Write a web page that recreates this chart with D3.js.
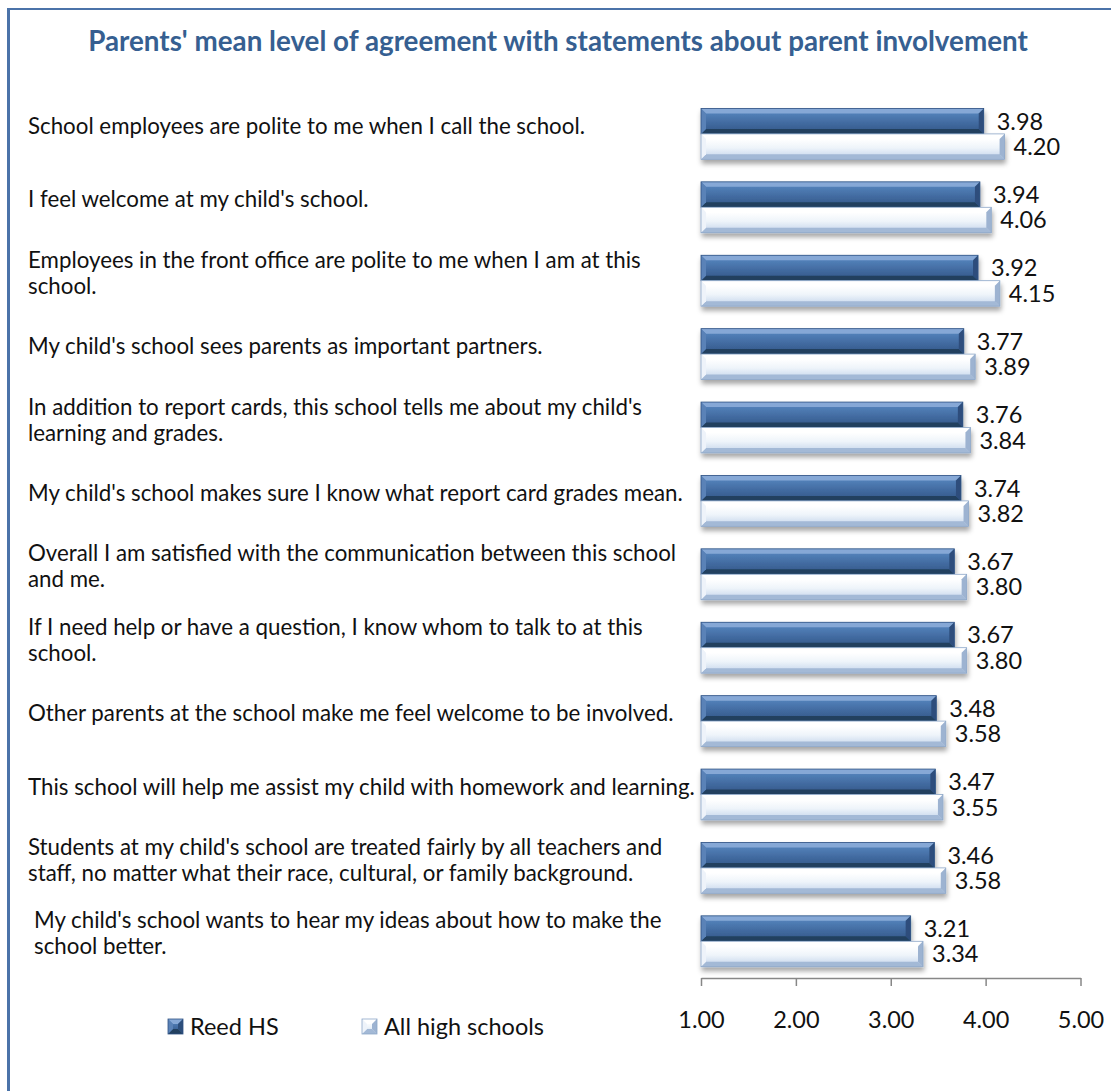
<!DOCTYPE html>
<html>
<head>
<meta charset="utf-8">
<script src="https://cdn.jsdelivr.net/npm/d3@7"></script>
<style>
  body { margin: 0; background: #fff; }
  svg { display: block; font-family: Lato, "Open Sans", sans-serif; }
</style>
</head>
<body>
<div id="chart"></div>
<script>
// statements, split into the lines shown in the chart
const statements = [
    ["School employees are polite to me when I call the school."],
    ["I feel welcome at my child's school."],
    ["Employees in the front office are polite to me when I am at this", "school."],
    ["My child's school sees parents as important partners."],
    ["In addition to report cards, this school tells me about my child's", "learning and grades."],
    ["My child's school makes sure I know what report card grades mean."],
    ["Overall I am satisfied with the communication between this school", "and me."],
    ["If I need help or have a question, I know whom to talk to at this", "school."],
    ["Other parents at the school make me feel welcome to be involved."],
    ["This school will help me assist my child with homework and learning."],
    ["Students at my child's school are treated fairly by all teachers and", "staff, no matter what their race, cultural, or family background."],
    ["My child's school wants to hear my ideas about how to make the", "school better."]
];
const reedHS = [3.98, 3.94, 3.92, 3.77, 3.76, 3.74, 3.67, 3.67, 3.48, 3.47, 3.46, 3.21];
const allHS  = [4.20, 4.06, 4.15, 3.89, 3.84, 3.82, 3.80, 3.80, 3.58, 3.55, 3.58, 3.34];
const seriesNames = ['Reed HS', 'All high schools'];
const xTicks = [1, 2, 3, 4, 5];
const title = "Parents' mean level of agreement with statements about parent involvement";

// label text boxes were placed by hand in the original, small nudges [dx, dy]
const labelNudge = [[0,0],[0,0],[0,0],[0,0],[0,0],[0,0],[0,0],[0,0],[0,0],[0,0],[0,0],[6,0]];

const width = 1111, height = 1091;
const svg = d3.select('#chart').append('svg')
    .attr('width', width)
    .attr('height', height);

const defs = svg.append('defs');

function grad(id, stops) {
    const g = defs.append('linearGradient').attr('id', id)
        .attr('x1', 0).attr('y1', 0).attr('x2', 0).attr('y2', 1);
    stops.forEach(s => g.append('stop').attr('offset', s[0]).attr('stop-color', s[1]));
}
grad('reedBody', [[0, '#6f97ca'], [0.2, '#5280b8'], [0.55, '#436ca2'], [0.85, '#375d8f'], [1, '#294c7a']]);
grad('allBody', [[0, '#dbe6f4'], [0.2, '#ffffff'], [0.55, '#eef4fa'], [0.85, '#cfddef'], [1, '#b4c8e1']]);

const shadow = defs.append('filter').attr('id', 'shadow')
    .attr('x', '-5%').attr('y', '-20%').attr('width', '115%').attr('height', '160%');
shadow.append('feDropShadow')
    .attr('dx', 1).attr('dy', 4).attr('stdDeviation', 2.5)
    .attr('flood-color', '#000').attr('flood-opacity', 0.35);

const styles = {
    'Reed HS': {body: 'url(#reedBody)', top: '#86a8d6', bottom: '#22405f', left: '#5a82b7', right: '#2d4e7b', stroke: '#2f5283'},
    'All high schools': {body: 'url(#allBody)', top: '#ffffff', bottom: '#a3b9d6', left: '#eef3fa', right: '#9db3d1', stroke: '#8da7c8'}
};

// frame
svg.append('line').attr('x1', 8).attr('x2', width).attr('y1', 9).attr('y2', 9)
    .attr('stroke', '#4b73a9').attr('stroke-width', 2);
svg.append('line').attr('x1', 8.5).attr('x2', 8.5).attr('y1', 8).attr('y2', height)
    .attr('stroke', '#4b73a9').attr('stroke-width', 3);

// fit a text node's font-size to a target width
function fit(sel, target) {
    const fs = parseFloat(sel.attr('font-size'));
    const w = sel.node().getComputedTextLength();
    sel.attr('font-size', (fs * target / w).toFixed(2));
}

const titleText = svg.append('text')
    .attr('x', 558).attr('y', 51)
    .attr('text-anchor', 'middle')
    .attr('font-weight', 'bold')
    .attr('font-size', 24)
    .attr('fill', '#365f91')
    .text(title);
fit(titleText, 940);

const x = d3.scaleLinear().domain([1, 5]).range([701, 1080.5]);
const idx = d3.range(statements.length);
const y = d3.scaleBand().domain(idx).range([97.2, 978]).paddingInner(0.307).paddingOuter(0.1535);
const ySub = d3.scaleBand().domain(seriesNames).range([0, y.bandwidth()]);

const data = idx.map(i => ({i, values: [
    {name: seriesNames[0], value: reedHS[i]},
    {name: seriesNames[1], value: allHS[i]}
]}));

function drawBar(g, x0, x1, y0, h, st) {
    const b = Math.min(5, (x1 - x0) / 2, h / 3), y1 = y0 + h;
    g.append('rect').attr('x', x0).attr('y', y0).attr('width', x1 - x0).attr('height', h)
        .attr('fill', st.body);
    const poly = (pts, fill) => g.append('polygon').attr('points', pts.map(p => p.join(',')).join(' ')).attr('fill', fill);
    poly([[x0, y0], [x1, y0], [x1 - b, y0 + b], [x0 + b, y0 + b]], st.top);
    poly([[x0, y1], [x1, y1], [x1 - b, y1 - b], [x0 + b, y1 - b]], st.bottom);
    poly([[x0, y0], [x0 + b, y0 + b], [x0 + b, y1 - b], [x0, y1]], st.left);
    poly([[x1, y0], [x1 - b, y0 + b], [x1 - b, y1 - b], [x1, y1]], st.right);
    g.append('rect').attr('x', x0).attr('y', y0).attr('width', x1 - x0).attr('height', h)
        .attr('fill', 'none').attr('stroke', st.stroke).attr('stroke-width', 0.8);
}

const groups = svg.append('g').selectAll('g.group')
    .data(data)
    .join('g')
    .attr('class', 'group')
    .attr('filter', 'url(#shadow)')
    .attr('transform', d => `translate(0,${y(d.i)})`);

groups.each(function(d) {
    const g = d3.select(this);
    d.values.forEach(v => drawBar(g, x(1), x(v.value), ySub(v.name), ySub.bandwidth(), styles[v.name]));
});

const numFont = 23.5;

// value labels
const valueLabels = svg.append('g');
data.forEach(d => {
    d.values.forEach((v, k) => {
        valueLabels.append('text')
            .attr('x', x(v.value) + (k === 0 ? 13 : 9))
            .attr('y', y(d.i) + ySub(v.name) + ySub.bandwidth() / 2)
            .attr('dy', '0.36em')
            .attr('font-size', numFont)
            .attr('fill', '#111')
            .text(d3.format('.2f')(v.value));
    });
});

// category labels
const lineH = 26;
const catFont = 22.3;
const catLabels = svg.append('g');
statements.forEach((lines, i) => {
    const cy = y(i) + y.bandwidth() / 2 - 8 + labelNudge[i][1];
    const t = catLabels.append('text')
        .attr('x', 28 + labelNudge[i][0])
        .attr('y', cy - (lines.length - 1) * lineH / 2)
        .attr('font-size', catFont)
        .attr('fill', '#111');
    lines.forEach((ln, k) => t.append('tspan')
        .attr('x', 28 + labelNudge[i][0])
        .attr('dy', k === 0 ? '0.36em' : lineH)
        .text(ln));
});

// x axis
const axis = svg.append('g')
    .attr('transform', 'translate(0,978)')
    .call(d3.axisBottom(x).tickValues(xTicks).tickFormat(d3.format('.2f')).tickSize(8).tickSizeOuter(0).tickPadding(25));
axis.select('.domain').attr('stroke', '#878787').attr('stroke-width', 1.5);
axis.selectAll('.tick line').attr('stroke', '#878787').attr('stroke-width', 1.5);
axis.selectAll('.tick text').attr('font-size', numFont).attr('fill', '#111').attr('font-family', 'Lato, sans-serif');

// legend
const legendX = [168, 362];
const legend = svg.append('g');
seriesNames.forEach((name, k) => {
    const g = legend.append('g').attr('transform', `translate(${legendX[k]},1019)`);
    drawBar(g, 0, 15, 0, 15, styles[name]);
    g.append('text').attr('x', 22).attr('y', 7.5).attr('dy', '0.36em')
        .attr('font-size', numFont).attr('fill', '#111').text(name);
});
</script>
</body>
</html>
